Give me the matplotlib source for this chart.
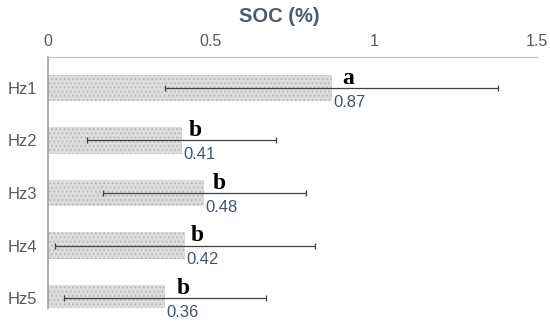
import matplotlib.pyplot as plt

plt.rcParams['font.family'] = ['Liberation Sans', 'DejaVu Sans']
plt.rcParams['hatch.linewidth'] = 0.7

horizons = ['Hz1', 'Hz2', 'Hz3', 'Hz4', 'Hz5']
soc = [0.87, 0.41, 0.48, 0.42, 0.36]
soc_err = [0.51, 0.29, 0.31, 0.40, 0.31]
letters = ['a', 'b', 'b', 'b', 'b']
letter_dx = [8, 5, 6, 4, 8]  # points, hand placed like the original

grey = '#595959'

fig = plt.figure(figsize=(5.5, 3.31), dpi=100)
ax = fig.add_axes([48/550, 1-308/331, (537-48)/550, (308-57)/331])

y = range(len(horizons))
ax.barh(y, soc, height=0.51, color='#dcdcdc', edgecolor='#b4b4b4',
        hatch='....', linewidth=0)
ax.errorbar(soc, y, xerr=soc_err, fmt='none', ecolor='#404040',
            elinewidth=0.9, capsize=2.5, capthick=0.9)

for i, (v, lt) in enumerate(zip(soc, letters)):
    ax.annotate(lt, (v, i), xytext=(letter_dx[i], 3), textcoords='offset points',
                ha='left', va='baseline', fontsize=17, fontweight='bold',
                family='Liberation Serif', color='black')
    ax.annotate('{:.2f}'.format(v), (v, i), xytext=(1, -5),
                textcoords='offset points', ha='left', va='top',
                fontsize=12, color='#44546a')

ax.set_xlim(0, 1.5)
ax.set_ylim(4.19, -0.59)
ax.set_xticks([0, 0.5, 1, 1.5])
ax.set_xticklabels(['0', '0.5', '1', '1.5'])
ax.set_yticks(list(y))
ax.set_yticklabels(horizons)
ax.xaxis.tick_top()
ax.tick_params(axis='x', length=0, pad=6, labelsize=11.5, labelcolor=grey)
ax.tick_params(axis='y', length=0, pad=8, labelsize=12, labelcolor=grey)
for s in ['right', 'bottom']:
    ax.spines[s].set_visible(False)
ax.spines['top'].set_color('#bfbfbf')
ax.spines['left'].set_color('#a0a0a0')
ax.spines['left'].set_linewidth(1.2)

fig.text(279/550, 1-16/331, 'SOC (%)', ha='center', va='center',
         fontsize=14.5, fontweight='bold', color='#505a68')

fig.savefig('out.png', dpi=100)
